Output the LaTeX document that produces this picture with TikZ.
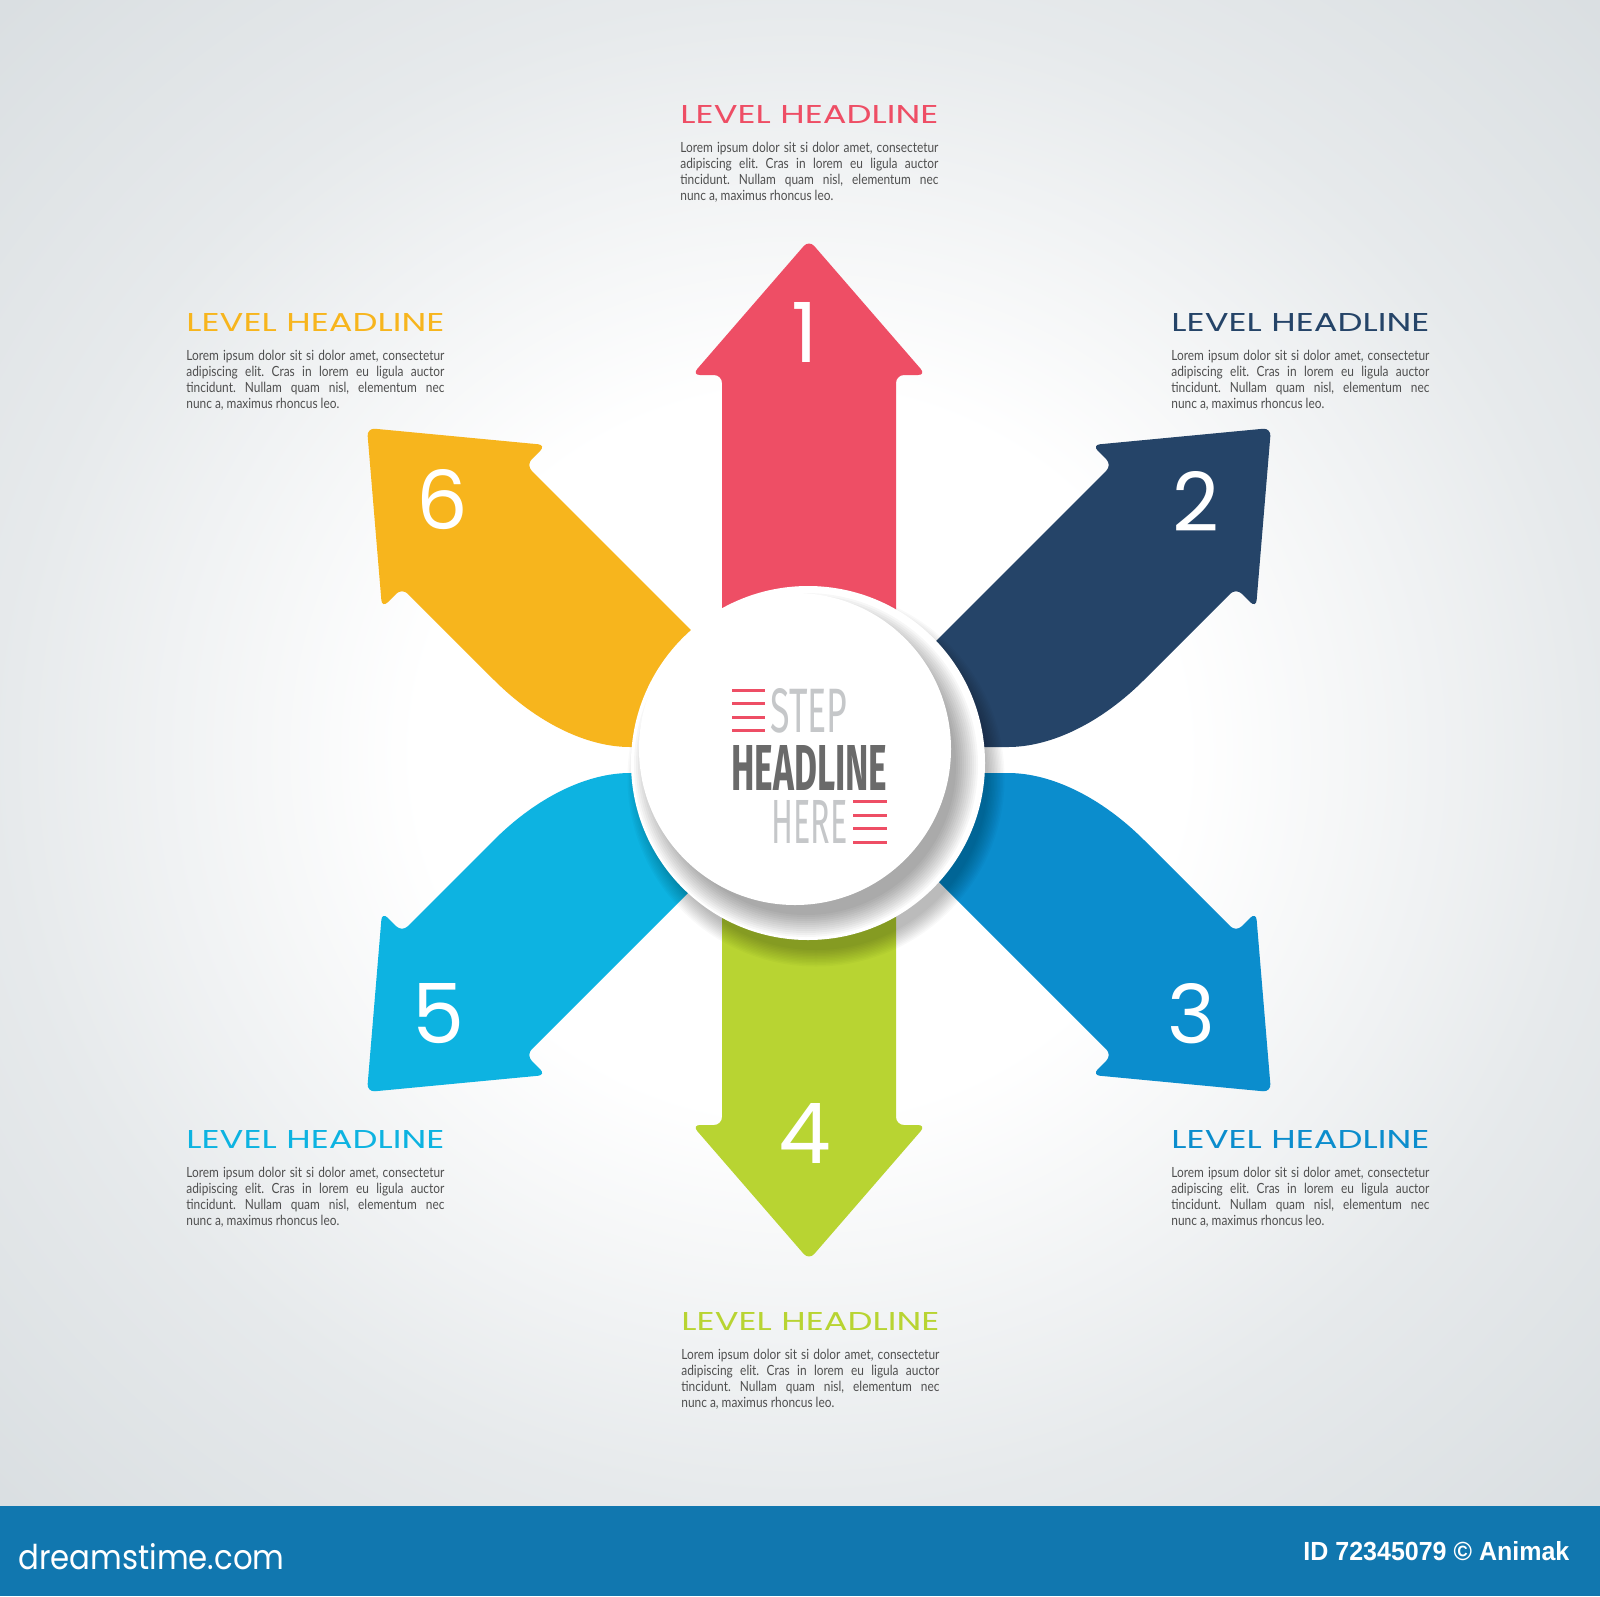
\documentclass[tikz,border=0pt]{standalone}
\usepackage{fontspec}
\usepackage{graphicx}
\setmainfont{Lato}
\newfontfamily\headfont{Poppins}
\newfontfamily\stepfont{Fira Sans}
\newfontfamily\barfont{Liberation Sans}
\usetikzlibrary{positioning}
\frenchspacing

\definecolor{redA}{HTML}{EE4E65}
\definecolor{navyB}{HTML}{254468}
\definecolor{blueC}{HTML}{0B8DCD}
\definecolor{greenD}{HTML}{B8D432}
\definecolor{cyanE}{HTML}{0DB3E1}
\definecolor{yellowF}{HTML}{F7B51D}
\definecolor{barblue}{HTML}{1177AF}
\definecolor{bggray}{HTML}{D9DEE1}
\definecolor{txtgray}{HTML}{4F4F4F}
\definecolor{stepgray}{HTML}{C5C7C9}
\definecolor{headgray}{HTML}{6A6A6A}
\colorlet{bgmid}{bggray!65!white}

\pgfdeclareradialshading{glow}{\pgfpoint{0bp}{0bp}}{color(0bp)=(white); color(12bp)=(white); color(25bp)=(bgmid); color(36bp)=(bggray); color(50bp)=(bggray)}

\newcommand\jline[1]{\scalebox{0.85}[1]{\makebox[151.8pt][s]{#1}}}
\newcommand\lline[1]{\scalebox{0.85}[1]{#1}}
\newcommand\lorem{\jline{Lorem ipsum dolor sit si dolor amet, consectetur}\\
  \jline{adipiscing elit. Cras in lorem eu ligula auctor}\\
  \jline{tincidunt. Nullam quam nisl, elementum nec}\\
  \lline{nunc a, maximus rhoncus leo.}}
\newcommand\levelhead{\resizebox{129pt}{9pt}{\headfont LEVEL HEADLINE}}

\begin{document}
\begin{tikzpicture}
  [x=0.5pt,y=-0.5pt,every node/.style={inner sep=0pt},
   head/.style={anchor=base west},
   body/.style={below right=9pt and 0pt of #1,align=left,text=txtgray,
     font=\fontsize{7}{8}\selectfont},
   digit/.style={text=white,font=\headfont},
   redbar/.style={redA,line width=1.5pt}]
  \useasboundingbox (0,0) rectangle (1600,1596);
  \shade[shading=glow] (0,0) rectangle (1600,1506);
  \fill[barblue] (0,1506) rectangle (1600,1596);

  % arrows
  \foreach \c/\s in {redA/1,greenD/-1}
    \fill[\c,rounded corners=4pt,shift={(0,750)},yscale=\s,shift={(0,-750)}]
      (722,700) -- (722,375) -- (692,375) -- (809,240) -- (926,375)
      -- (896,375) -- (896,700) -- cycle;
  \foreach \c/\sx/\sy in {navyB/1/1,blueC/1/-1,cyanE/-1/-1,yellowF/-1/1}
    \fill[\c,rounded corners=4pt,shift={(819,760)},xscale=\sx,yscale=\sy,shift={(-819,-760)}]
      (880,747) -- (880,697) -- (1112,465) -- (1092,445) -- (1271,428)
      -- (1256,608) -- (1236,588) -- (1150,674)
      .. controls (1101,723) and (1051,747) .. (1000,747) -- cycle;

  % plate and disc
  \foreach \i in {0,...,11}
    \fill[black,opacity=0.025] (816,778) circle (172+1.5*\i);
  \fill[white] (808,763) circle (177);
  \begin{scope}
    \clip (808,763) circle (177);
    \foreach \i in {0,...,11}
      \fill[black,opacity=0.03] (806,765) circle (150+2*\i);
  \end{scope}
  \fill[white] (795,749) circle (156);

  % centre text
  \node[anchor=base west,text=stepgray] (step) at (770,732)
    {\resizebox{38.5pt}{22pt}{\stepfont STEP}};
  \node[anchor=base west,text=headgray] (headl) at (731,790)
    {\resizebox{78pt}{22.5pt}{\stepfont\bfseries HEADLINE}};
  \node[anchor=base west,text=stepgray] (here) at (771,843)
    {\resizebox{38pt}{21.5pt}{\stepfont HERE}};
  \foreach \y in {690,703,717,730}
    \draw[redbar] (732,\y) -- (765,\y);
  \foreach \y in {801,815,828,842}
    \draw[redbar] (853,\y) -- (887,\y);

  % numbers
  \foreach \n/\x/\y in {1/805/332,2/1196/501,3/1191/1014,4/805/1133,5/439/1014,6/442/500}
    \node[digit] (d\n) at (\x,\y) {\resizebox{!}{30pt}{\n}};

  % text blocks
  \foreach \n/\c/\x/\y in {1/redA/680/123,2/navyB/1171/331,3/blueC/1171/1148,
      4/greenD/681/1330,5/cyanE/186/1148,6/yellowF/186/331} {
    \node[head,text=\c] (h\n) at (\x,\y) {\levelhead};
    \node[body=h\n.south west] (t\n) {\lorem};
  }

  % bar
  \node[anchor=base west,text=white] (site) at (18,1569)
    {\resizebox{133pt}{13pt}{\headfont dreamstime.com}};
  \node[anchor=base west,text=white] (id) at (1303,1560)
    {\resizebox{133pt}{9.5pt}{\barfont\bfseries ID 72345079 © Animak}};
\end{tikzpicture}
\end{document}
